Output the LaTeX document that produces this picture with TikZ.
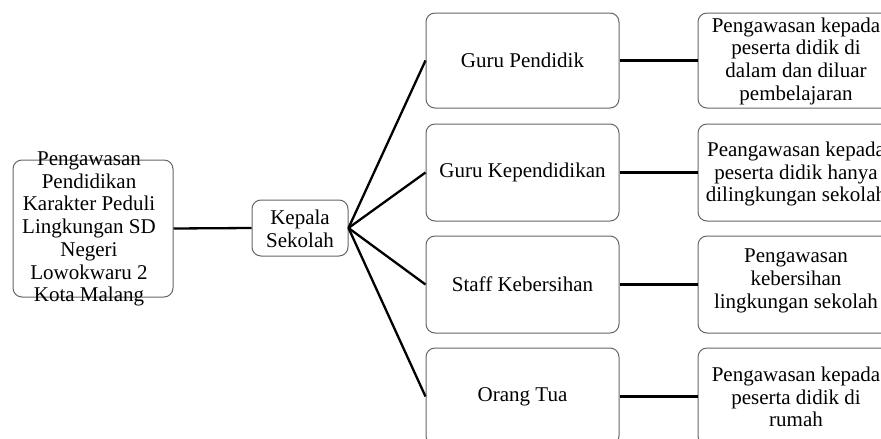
\documentclass[tikz,border=0pt]{standalone}
\usepackage{fontspec}
\setmainfont{Liberation Serif}
\begin{document}
\begin{tikzpicture}[x=1pt,y=-1pt,
  box/.style={draw=black!60,line width=1pt,rounded corners=9pt,inner sep=0pt,fill=white},
  txt/.style={align=center,inner sep=0pt,font=\fontsize{21}{22.7}\selectfont},
  link/.style={draw=black,line width=2.3pt}]
\useasboundingbox (0,0) rectangle (881,439);
\clip (0,0) rectangle (881,439);
% boxes
\node[box,minimum width=160pt,minimum height=137pt] (root) at (93,228.5) {};
\node[box,minimum width=96pt,minimum height=56pt] (kep) at (300,228) {};
\node[box,minimum width=193pt,minimum height=95pt] (g1) at (522.5,60.5) {};
\node[box,minimum width=193pt,minimum height=97pt] (g2) at (522.5,172.5) {};
\node[box,minimum width=193pt,minimum height=97pt] (g3) at (522.5,284.5) {};
\node[box,minimum width=193pt,minimum height=97pt] (g4) at (522.5,396.5) {};
\node[box,minimum width=196pt,minimum height=95pt] (d1) at (796,60.5) {};
\node[box,minimum width=196pt,minimum height=97pt] (d2) at (796,172.5) {};
\node[box,minimum width=196pt,minimum height=97pt] (d3) at (796,284.5) {};
\node[box,minimum width=196pt,minimum height=97pt] (d4) at (796,396.5) {};
% texts
\node[txt] (troot) at (89,229) {Pengawasan\\Pendidikan\\Karakter Peduli\\Lingkungan SD\\Negeri\\Lowokwaru 2\\Kota Malang};
\node[txt] (tkep) at (300,229) {Kepala\\Sekolah};
\node[txt] (tg1) at (g1) {Guru Pendidik};
\node[txt] (tg2) at (g2) {Guru Kependidikan};
\node[txt] (tg3) at (g3) {Staff Kebersihan};
\node[txt] (tg4) at (g4) {Orang Tua};
\node[txt] (td1) at (796,61) {Pengawasan kepada\\peserta didik di\\dalam dan diluar\\pembelajaran};
\node[txt] (td2) at (796,174) {Peangawasan kepada\\peserta didik hanya\\dilingkungan sekolah};
\node[txt] (td3) at (796,281) {Pengawasan\\kebersihan\\lingkungan sekolah};
\node[txt] (td4) at (796,397) {Pengawasan kepada\\peserta didik di\\rumah};
% connectors
\draw[link] (root.east) -- (kep.west);
\foreach \g in {g1,g2,g3,g4} \draw[link] (kep.east) -- (\g.west);
\draw[link] (g1.east) -- (d1.west);
\draw[link] (g2.east) -- (d2.west);
\draw[link] (g3.east) -- (d3.west);
\draw[link] (g4.east) -- (d4.west);
\end{tikzpicture}
\end{document}
